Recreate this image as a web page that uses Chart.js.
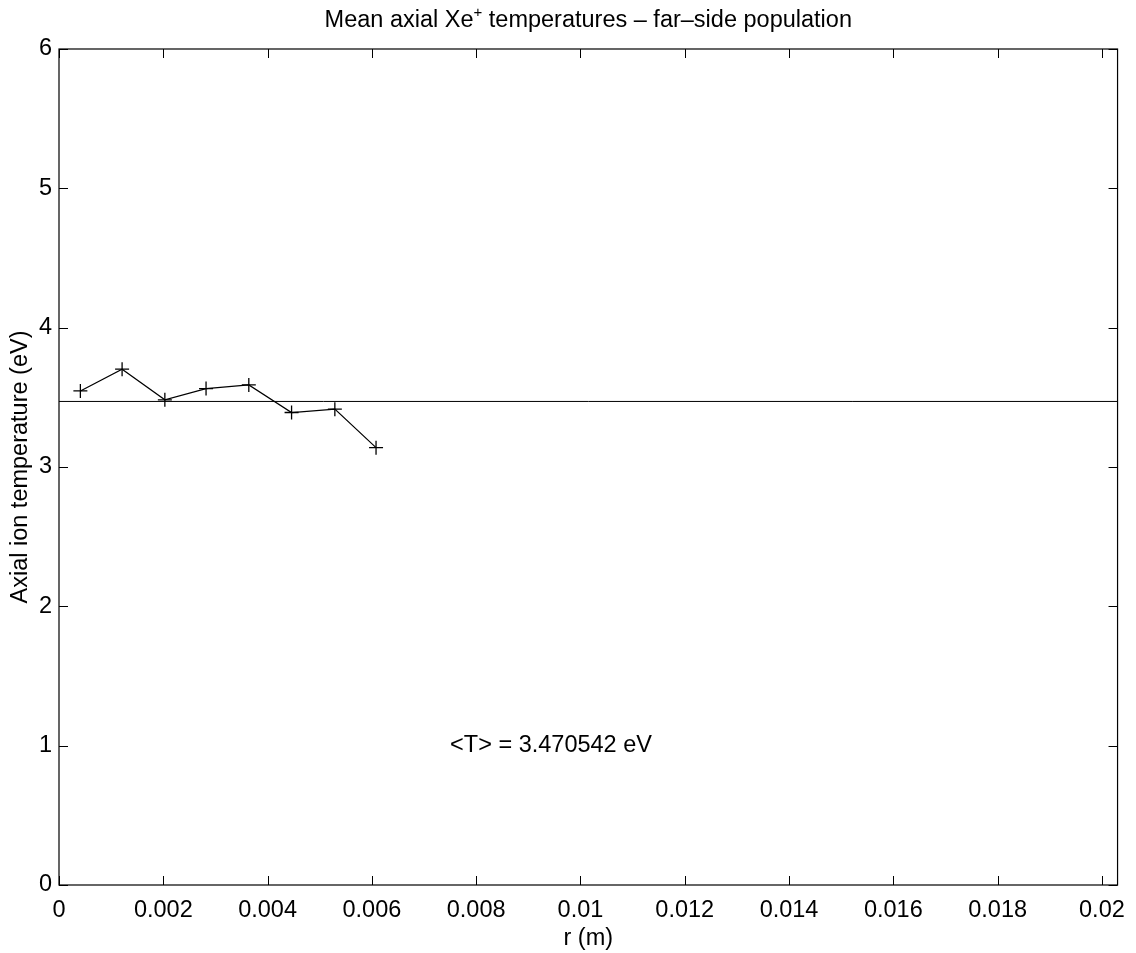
<!DOCTYPE html>
<html>
<head>
<meta charset="utf-8">
<script src="https://cdn.jsdelivr.net/npm/chart.js@4/dist/chart.umd.min.js"></script>
<style>
html,body{margin:0;padding:0;background:#fff;}
canvas{display:block;}
</style>
</head>
<body>
<canvas id="c" width="1136" height="953"></canvas>
<script>
/* data */
const rValues=[0.00041,0.00121,0.00203,0.00282,0.00364,0.00446,0.00529,0.00608];
const tempValues=[3.546,3.702,3.482,3.563,3.589,3.391,3.415,3.139];
const meanT=3.470542;
const xRange=[0,0.0203];
const yRange=[0,6];
const xStep=0.002, yStep=1;
const titleParts=["Mean axial Xe","+"," temperatures \u2013 far\u2013side population"];
const xLabel="r (m)";
const yLabel="Axial ion temperature (eV)";
const noteText="<T> = "+meanT.toFixed(6)+" eV";
const notePos={x:0.0075,y:1};

const FONT="'Liberation Sans', Arial, Helvetica, sans-serif";
const FS=23.5;

/* frame, inward ticks, title, labels */
const decor={
id:"decor",
afterDraw(chart){
let ctx=chart.ctx,a=chart.chartArea,xs=chart.scales.x,ys=chart.scales.y;
ctx.save();
ctx.strokeStyle="#000";ctx.lineWidth=1.2;
ctx.strokeRect(a.left,a.top,a.right-a.left,a.bottom-a.top);

let tl=9;
ctx.lineWidth=1;
ctx.beginPath();
xs.ticks.forEach(t=>{
let px=Math.round(xs.getPixelForValue(t.value))+0.5;
ctx.moveTo(px,a.bottom);ctx.lineTo(px,a.bottom-tl);
ctx.moveTo(px,a.top);ctx.lineTo(px,a.top+tl);
});
ys.ticks.forEach(t=>{
let py=Math.round(ys.getPixelForValue(t.value))+0.5;
ctx.moveTo(a.left,py);ctx.lineTo(a.left+tl,py);
ctx.moveTo(a.right,py);ctx.lineTo(a.right-tl,py);
});
ctx.stroke();

ctx.fillStyle="#000";
/* title with superscript */
ctx.textBaseline="alphabetic";
let big=FS+"px "+FONT,small="15px "+FONT;
ctx.font=big;let w0=ctx.measureText(titleParts[0]).width;
ctx.font=small;let w1=ctx.measureText(titleParts[1]).width;
ctx.font=big;let w2=ctx.measureText(titleParts[2]).width;
let cx=(a.left+a.right)/2,x0=cx-(w0+w1+w2)/2,by=27;
ctx.textAlign="left";
ctx.font=big;ctx.fillText(titleParts[0],x0,by);
ctx.font=small;ctx.fillText(titleParts[1],x0+w0,by-10);
ctx.font=big;ctx.fillText(titleParts[2],x0+w0+w1,by);

/* x label */
ctx.textAlign="center";ctx.textBaseline="middle";
ctx.font=big;
ctx.fillText(xLabel,cx,939);

/* y label */
ctx.save();
ctx.translate(21,(a.top+a.bottom)/2);
ctx.rotate(-Math.PI/2);
ctx.fillText(yLabel,0,0);
ctx.restore();

/* mean annotation */
ctx.textAlign="left";
ctx.fillText(noteText,xs.getPixelForValue(notePos.x),ys.getPixelForValue(notePos.y));
ctx.restore();
}
};

new Chart(document.getElementById("c"),{
type:"scatter",
data:{datasets:[
{data:rValues.map((r,i)=>({x:r,y:tempValues[i]})),showLine:true,borderColor:"#000",borderWidth:1.2,
pointStyle:"cross",pointRadius:7,pointBorderWidth:1.3,pointBorderColor:"#000",pointBackgroundColor:"#000"},
{data:[{x:xRange[0],y:meanT},{x:xRange[1],y:meanT}],showLine:true,borderColor:"#000",borderWidth:1,pointRadius:0}
]},
options:{
responsive:false,animation:false,
layout:{padding:{left:0,top:49,right:15,bottom:0}},
plugins:{legend:{display:false},tooltip:{enabled:false}},
scales:{
x:{type:"linear",min:xRange[0],max:xRange[1],
grid:{display:false,drawTicks:false},border:{display:false},
ticks:{stepSize:xStep,includeBounds:false,padding:11,color:"#000",font:{family:FONT,size:FS},
maxRotation:0,autoSkip:false,callback:v=>String(+v.toFixed(4))},
afterFit(s){s.height=68;}},
y:{type:"linear",min:yRange[0],max:yRange[1],
grid:{display:false,drawTicks:false},border:{display:false},
ticks:{stepSize:yStep,padding:7,color:"#000",font:{family:FONT,size:FS}},
afterFit(s){s.width=59;}}
}
},
plugins:[decor]
});
</script>
</body>
</html>
